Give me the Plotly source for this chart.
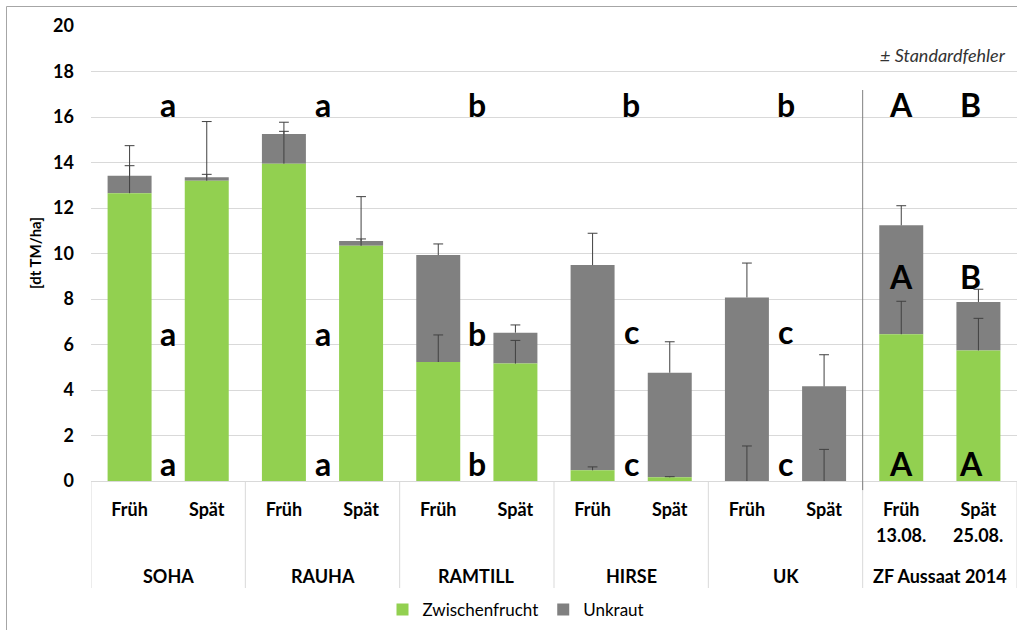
import plotly.graph_objects as go

# ---- data ----
groups = ["SOHA", "RAUHA", "RAMTILL", "HIRSE", "UK", "ZF Aussaat 2014"]
sub_labels = ["Früh", "Spät"] * 6
categories = [f"{g} {s}" for g in groups for s in ["Früh", "Spät"]]
zf_dates = ["13.08.", "25.08."]

zwischenfrucht = [12.65, 13.20, 13.95, 10.34, 5.23, 5.16, 0.47, 0.16, 0.0, 0.0, 6.45, 5.74]
unkraut = [0.77, 0.15, 1.30, 0.21, 4.70, 1.36, 9.02, 4.60, 8.07, 4.16, 4.79, 2.13]
err_zwischenfrucht = [1.21, 0.28, 1.42, 0.30, 1.19, 1.02, 0.15, 0.03, 1.54, 1.39, 1.45, 1.41]
err_total = [1.32, 2.45, 0.52, 1.95, 0.49, 0.34, 1.40, 1.36, 1.51, 1.39, 0.86, 0.56]

letters_top = ["a", "a", "b", "b", "b", "A", "B"]
letters_mid = ["a", "a", "b", "c", "c", "A", "B"]
letters_bot = ["a", "a", "b", "c", "c", "A", "A"]
letter_x = [0.5, 2.5, 4.5, 6.5, 8.5, 10.0, 10.9]
letter_y_top = 16.55
letter_y_mid = [6.5, 6.5, 6.5, 6.55, 6.55, 8.98, 8.98]
letter_y_bot = 0.79

GREEN = "#92D050"
GREY = "#808080"
ERR = "#404040"
FONT = "Lato"

fig = go.Figure()
fig.add_trace(go.Bar(
    x=categories, y=unkraut, base=zwischenfrucht, name="Unkraut",
    marker=dict(color=GREY, line=dict(width=0)), legendrank=2,
))
fig.add_trace(go.Bar(
    x=categories, y=zwischenfrucht, name="Zwischenfrucht",
    marker=dict(color=GREEN, line=dict(width=0)), legendrank=1,
))

# plus-only error bars (cap only at the upper end), drawn above both bar series
green_top = [g + e for g, e in zip(zwischenfrucht, err_zwischenfrucht)]
total_top = [g + u + e for g, u, e in zip(zwischenfrucht, unkraut, err_total)]
for tops, errs in ((green_top, err_zwischenfrucht), (total_top, err_total)):
    fig.add_trace(go.Scatter(
        x=categories, y=tops, mode="markers", showlegend=False, hoverinfo="skip",
        marker=dict(symbol="line-ew", size=7, color=ERR, line=dict(color=ERR, width=1)),
        error_y=dict(type="data", array=[0] * 12, arrayminus=errs, symmetric=False,
                     color=ERR, thickness=1, width=0),
    ))

LET = dict(family=FONT, size=32, color="black")
annotations = []
for t, x in zip(letters_top, letter_x):
    annotations.append(dict(x=x, y=letter_y_top, xref="x", yref="y", text=f"<b>{t}</b>",
                            showarrow=False, xanchor="center", font=LET))
for t, x, y in zip(letters_mid, letter_x, letter_y_mid):
    annotations.append(dict(x=x, y=y, xref="x", yref="y", text=f"<b>{t}</b>",
                            showarrow=False, xanchor="center", font=LET))
for t, x in zip(letters_bot, letter_x):
    annotations.append(dict(x=x, y=letter_y_bot, xref="x", yref="y", text=f"<b>{t}</b>",
                            showarrow=False, xanchor="center", font=LET))

# group labels
for i, g in enumerate(groups):
    annotations.append(dict(x=2 * i + 0.5, y=(481 - 576) / 455, xref="x", yref="paper",
                            text=f"<b>{g}</b>", showarrow=False, xanchor="center", yanchor="middle",
                            font=dict(family=FONT, size=18, color="black")))
# dates under ZF
for j, d in enumerate(zf_dates):
    annotations.append(dict(x=10 + j, y=(481 - 535) / 455, xref="x", yref="paper",
                            text=f"<b>{d}</b>", showarrow=False, xanchor="center", yanchor="middle",
                            font=dict(family=FONT, size=18, color="black")))
# y title
annotations.append(dict(x=(35 - 91) / 926, y=(481 - 253) / 455, xref="paper", yref="paper",
                        text="<b>[dt TM/ha]</b>", textangle=-90, showarrow=False,
                        xanchor="center", yanchor="middle",
                        font=dict(family=FONT, size=15, color="black")))
# Standardfehler note
annotations.append(dict(x=(943 - 91) / 926, y=(481 - 55) / 455, xref="paper", yref="paper",
                        text="<i>± Standardfehler</i>", showarrow=False,
                        xanchor="center", yanchor="middle",
                        font=dict(family=FONT, size=18, color="#333")))

shapes = []
# dividers below axis
for k in range(7):
    shapes.append(dict(type="line", xref="x", yref="paper", x0=2 * k - 0.5, x1=2 * k - 0.5,
                       y0=0, y1=(481 - 588) / 455, line=dict(color="#d9d9d9", width=1)))
# separator line
shapes.append(dict(type="line", xref="x", yref="paper", x0=9.5, x1=9.5,
                   y0=(481 - 90) / 455, y1=-0.02, line=dict(color="#808080", width=1)))
# outer frame
shapes.append(dict(type="rect", xref="paper", yref="paper",
                   x0=(6.5 - 91) / 926, x1=1.3, y0=(481 - 6.5) / 455, y1=-0.6,
                   line=dict(color="#a6a6a6", width=1), layer="below"))

fig.update_layout(
    width=1017, height=630,
    margin=dict(l=91, r=0, t=26, b=149),
    barmode="overlay", bargap=0.43,
    plot_bgcolor="white", paper_bgcolor="white",
    font=dict(family=FONT, color="black"),
    showlegend=True,
    legend=dict(orientation="h", x=(516 - 91) / 926, xanchor="center", y=(481 - 610) / 455,
                yanchor="middle", font=dict(family=FONT, size=17, color="black"),
                traceorder="normal", itemwidth=30),
    annotations=annotations, shapes=shapes,
)
fig.update_xaxes(
    type="category", range=[-0.5, 11.5], tickvals=categories,
    ticktext=[f"<b>{s}</b>" for s in sub_labels],
    tickfont=dict(family=FONT, size=18, color="black"),
    ticks="", ticklabelstandoff=12,
    showline=True, linecolor="#d9d9d9", linewidth=1, showgrid=False, zeroline=False,
)
fig.update_yaxes(
    range=[0, 20], dtick=2, showgrid=True, gridcolor="#d9d9d9", gridwidth=1,
    zeroline=False, showline=False, ticks="", ticklabelstandoff=16,
    tickfont=dict(family=FONT, size=18, color="black"),
    tickprefix="<b>", ticksuffix="</b>",
)

fig.write_html("out.html", config={"displayModeBar": False},
               post_script="document.body.style.margin='0px';document.body.style.overflow='hidden';")
